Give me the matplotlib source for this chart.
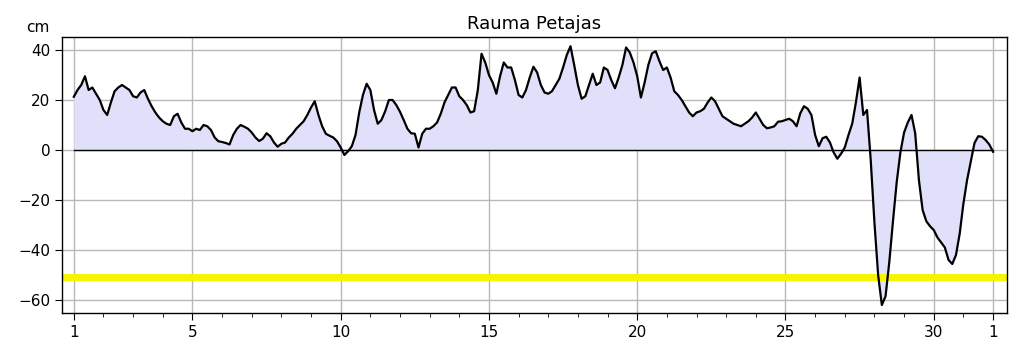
import numpy as np
import matplotlib
matplotlib.use("Agg")
import matplotlib.pyplot as plt

title = "Rauma Petajas"
unit = "cm"
start_day = 1.0
step_days = 0.125  # 3-hour samples
warning_level = -51
xtick_pos = [1, 5, 10, 15, 20, 25, 30, 32]
xtick_labels = ["1", "5", "10", "15", "20", "25", "30", "1"]
yticks = [-60, -40, -20, 0, 20, 40]

level = [
    21.3, 24, 26, 29.5, 24, 25, 22.5, 20,
    16, 14, 19, 23.5, 25, 26, 25, 24,
    21.5, 21, 23, 24, 20.5, 17.5, 15, 13,
    11.5, 10.5, 10, 13.5, 14.5, 11, 8.5, 8.5,
    7.5, 8.5, 8, 10, 9.5, 8, 5, 3.5,
    3.2, 2.8, 2.2, 6, 8.5, 10, 9.3, 8.5,
    7, 5, 3.6, 4.5, 6.7, 5.5, 3, 1.3,
    2.5, 3, 5, 6.5, 8.5, 10, 11.5, 14,
    17, 19.5, 14, 9.5, 6.5, 5.7, 5, 3.5,
    1, -2, -0.5, 1.5, 6, 15, 22, 26.5,
    24, 16, 10.5, 12, 15.5, 20, 20, 18,
    15.3, 12, 8.5, 6.7, 6.5, 1, 6.5, 8.5,
    8.5, 9.5, 11, 14.5, 19, 22, 25, 25,
    21.5, 20, 18, 15, 15.5, 24, 38.5, 35,
    30, 27, 22.5, 29.5, 35, 33, 33, 28,
    22, 21, 24, 29, 33.3, 31, 26, 23,
    22.5, 23.5, 26, 28.5, 33, 38, 41.5, 34,
    26, 20.5, 21.5, 26, 30.5, 26, 27, 33,
    32, 28, 24.7, 29, 34, 41, 39, 35,
    29.5, 21, 27, 34, 38.7, 39.5, 35.5, 32,
    33, 29, 23.5, 22, 20, 17.5, 15, 13.5,
    15, 15.5, 16.5, 19, 21, 19.5, 16.5, 13.5,
    12.5, 11.5, 10.5, 10, 9.5, 10.5, 11.5, 13,
    15, 12.5, 10, 8.7, 9, 9.5, 11.3, 11.5,
    12, 12.5, 11.5, 9.5, 14.7, 17.5, 16.5, 14,
    6, 1.5, 4.7, 5.3, 3, -1, -3.5, -1.5,
    1, 6, 10.5, 19, 29, 14, 16, -4,
    -29, -50, -62, -58.5, -45, -28.5, -13, -1,
    7, 11, 14, 6.7, -12, -24, -28.5, -30.5,
    -32, -35, -37, -39, -44, -45.6, -42, -33.5,
    -21.5, -12, -4.5, 2.8, 5.5, 5.3, 4, 2.2,
    -0.7,
]

level = np.array(level, dtype=float)
days = start_day + step_days * np.arange(len(level))

fig = plt.figure(figsize=(10.19, 3.52), dpi=100)
ax = fig.add_axes([0.0608, 0.1108, 0.9274, 0.7841])

ax.fill_between(days, level, 0, color="#e0e0fa", lw=0, zorder=1)
ax.plot([days[0], days[-1]], [0, 0], color="black", lw=1.0, zorder=2)
ax.axhline(warning_level, color="#f5f500", lw=5, zorder=2)
ax.plot(days, level, color="black", lw=1.6, zorder=3)

ax.set_xlim(0.6, 32.47)
ax.set_ylim(-65.2, 45.2)
ax.set_xticks(xtick_pos)
ax.set_xticklabels(xtick_labels)
ax.set_xticks(np.arange(1, 33), minor=True)
ax.set_yticks(yticks)
ax.grid(True, which="major", color="#b8b8b8", lw=1.0, zorder=0)
ax.set_axisbelow(True)
ax.tick_params(axis="both", which="major", labelsize=11, length=5)
ax.tick_params(axis="x", which="minor", length=3)
for s in ax.spines.values():
    s.set_linewidth(1.0)

ax.set_title(title, fontsize=13, pad=6)
fig.text(0.037, 0.923, unit, fontsize=11, ha="center", va="center")

fig.savefig("out.png", dpi=100)
